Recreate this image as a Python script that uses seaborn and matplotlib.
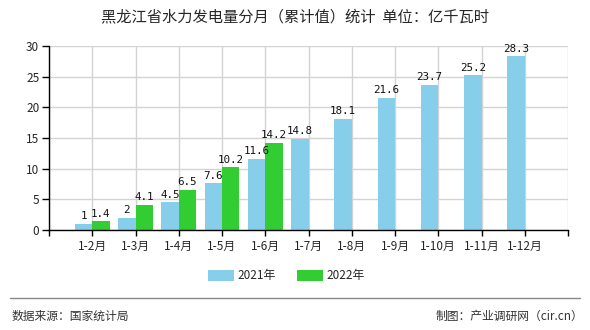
import matplotlib
matplotlib.use("Agg")
import matplotlib.pyplot as plt
import seaborn as sns
import pandas as pd

months = ["1-2月", "1-3月", "1-4月", "1-5月", "1-6月", "1-7月", "1-8月",
          "1-9月", "1-10月", "1-11月", "1-12月"]
values_2021 = [1, 2, 4.5, 7.6, 11.6, 14.8, 18.1, 21.6, 23.7, 25.2, 28.3]
values_2022 = [1.4, 4.1, 6.5, 10.2, 14.2]
series_names = ["2021年", "2022年"]
colors = ["#87CEEB", "#32CD32"]
title = "黑龙江省水力发电量分月（累计值）统计  单位：亿千瓦时"
source_left = "数据来源：国家统计局"
source_right = "制图：产业调研网（cir.cn）"

rows = []
for m, v in zip(months, values_2021):
    rows.append({"month": m, "series": series_names[0], "value": v})
for m, v in zip(months, values_2022):
    rows.append({"month": m, "series": series_names[1], "value": v})
df = pd.DataFrame(rows)

sns.set_theme(style="white")
plt.rcParams["font.family"] = ["Noto Sans CJK SC", "DejaVu Sans"]

fig = plt.figure(figsize=(5.9, 3.3), dpi=100)
ax = fig.add_axes([49 / 590, 1 - 230 / 330, (568 - 49) / 590, (230 - 46) / 330])

sns.barplot(data=df, x="month", y="value", hue="series", order=months,
            hue_order=series_names, palette=colors, errorbar=None,
            width=0.8, ax=ax, saturation=1, legend=True, zorder=2,
            linewidth=0, edgecolor="none")

for c in ax.containers:
    ax.bar_label(c, fmt="%g", padding=2, fontsize=7.8,
                 family=["DejaVu Sans Mono"], color="#111111")

ax.set_xlim(-1, 11)
ax.set_ylim(0, 30)
ax.set_yticks(range(0, 31, 5))
ax.set_xticks(range(-1, 12))
ax.set_xticklabels([""] + months + [""], fontsize=8.5)
ax.tick_params(axis="y", labelsize=8.5, length=5, width=1, color="black",
               direction="out", left=True, pad=2)
ax.tick_params(axis="x", length=4, width=1, color="black", direction="out",
               bottom=True, pad=3)
ax.set_xlabel("")
ax.set_ylabel("")
ax.grid(True, color="#d3d3d3", linewidth=1, zorder=0)
ax.set_axisbelow(True)
for s in ["top", "right"]:
    ax.spines[s].set_visible(False)
for s in ["left", "bottom"]:
    ax.spines[s].set_color("black")
    ax.spines[s].set_linewidth(1)

handles, labels = ax.get_legend_handles_labels()
ax.legend_.remove()
fig.legend(handles, labels, loc="center", bbox_to_anchor=(0.485, 1 - 276 / 330),
           ncol=2, frameon=False, fontsize=8.5, handlelength=2.2,
           handleheight=1.0, columnspacing=1.8, handletextpad=0.3)

fig.text(0.5, 1 - 17 / 330, title, ha="center", va="center", fontsize=11)
fig.add_artist(plt.Line2D([10 / 590, 580 / 590], [1 - 298 / 330, 1 - 298 / 330],
                          color="#888888", linewidth=1))
fig.text(12 / 590, 1 - 316 / 330, source_left, ha="left", va="center",
         fontsize=8.5, color="#333333")
fig.text(583 / 590, 1 - 316 / 330, source_right, ha="right", va="center",
         fontsize=8.5, color="#333333")

fig.savefig("out.png", dpi=100)
